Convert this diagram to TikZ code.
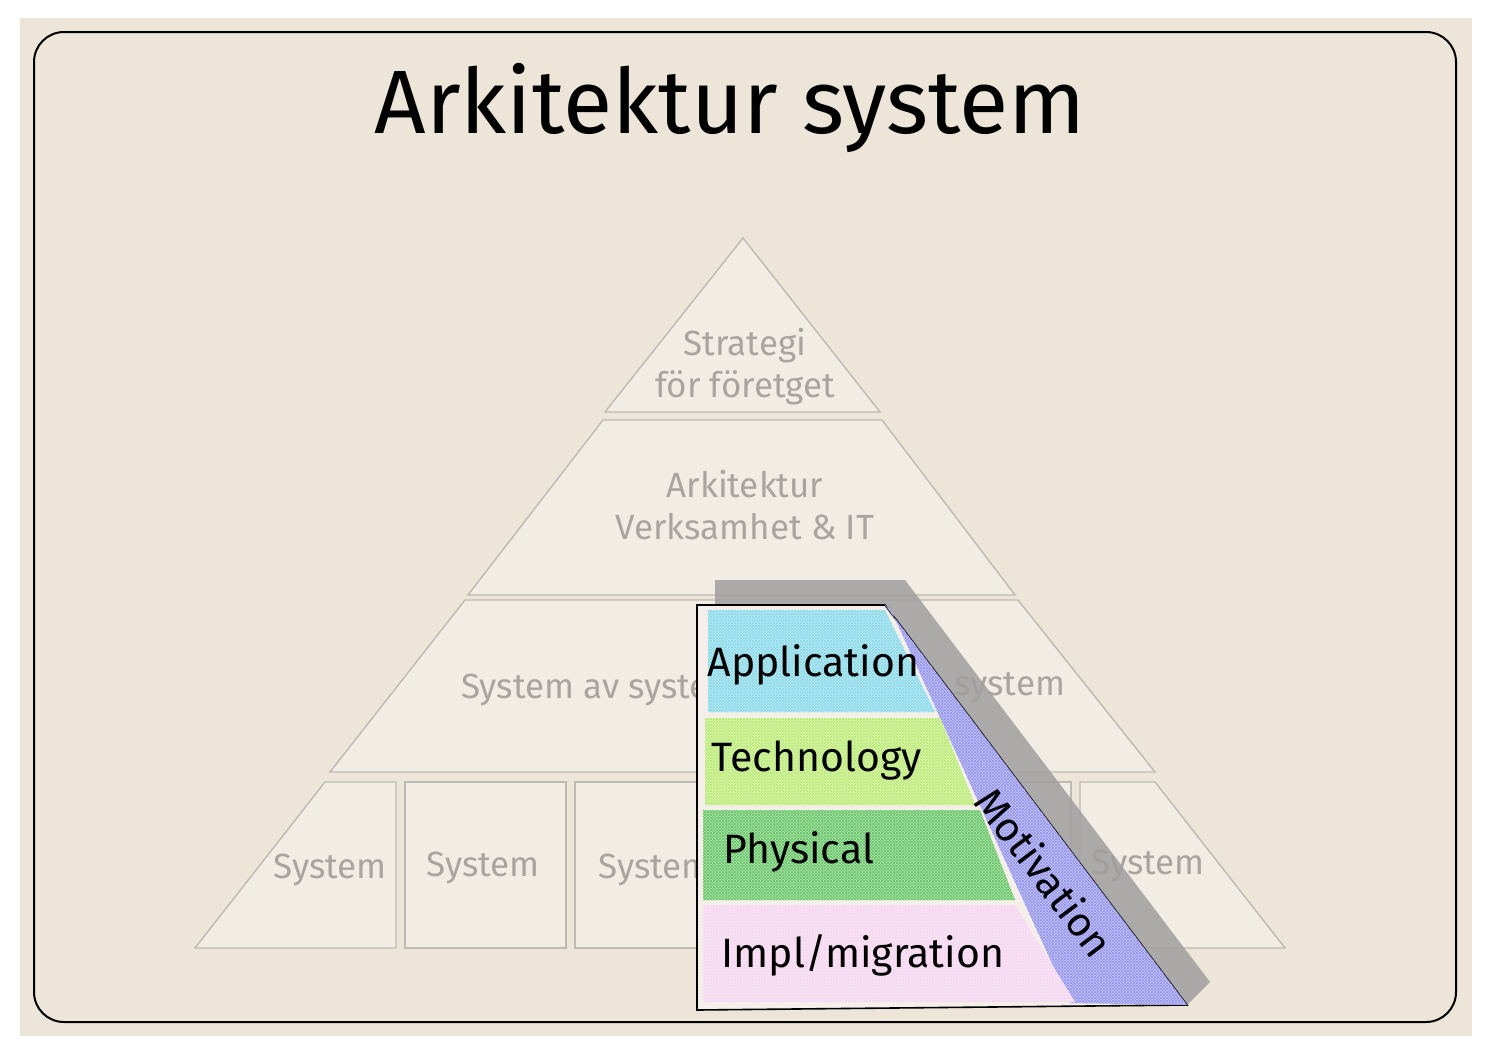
\documentclass[tikz,border=0pt]{standalone}
\usepackage{fontspec}
\setmainfont{Fira Sans}
\usetikzlibrary{patterns}
\definecolor{paper}{HTML}{ECE5D8}
\definecolor{pyrline}{HTML}{BDBAB4}
\definecolor{pyrtext}{HTML}{A8A49E}
\definecolor{appcol}{HTML}{7FD6E8}
\definecolor{techcol}{HTML}{B6EA6A}
\definecolor{physcol}{HTML}{5CC25C}
\definecolor{implcol}{HTML}{F6D2F0}
\definecolor{motcol}{HTML}{8C8CF0}
\tikzset{
  level/.style={draw=pyrline, line width=1.4pt, fill=paper!70!white},
  pyrlabel/.style={text=pyrtext, font=\fontsize{35}{42}\selectfont, align=center},
  band/.style={fill=#1!45!white, pattern color=#1},
  bandlabel/.style={font=\fontsize{41}{44}\selectfont},
}
\begin{document}
\begin{tikzpicture}[x=1pt,y=-1pt]
\useasboundingbox (0,0) rectangle (1490,1052);
\fill[white] (0,0) rectangle (1490,1052);
\fill[paper] (20,18) rectangle (1472,1036);
\draw[line width=2pt, rounded corners=30pt] (34,32) rectangle (1456,1022);
\node[font=\fontsize{90}{96}\selectfont] (title) at (730,108) {Arkitektur system};
% pyramid
\draw[level] (743,238) -- (880,412) -- (605,412) -- cycle;
\draw[level] (603,420) -- (882,420) -- (1015,595) -- (468,595) -- cycle;
\draw[level] (465,600) -- (1018,600) -- (1155,772) -- (330,772) -- cycle;
\draw[level] (325,782) -- (396,782) -- (396,948) -- (195,948) -- cycle;
\draw[level] (405,782) rectangle (566,948);
\draw[level] (575,782) rectangle (736,948);
\draw[level] (910,782) rectangle (1071,948);
\draw[level] (1080,782) -- (1155,782) -- (1285,948) -- (1080,948) -- cycle;
\node[pyrlabel] (strat) at (745,367) {Strategi\\för företget};
\node[pyrlabel] (arkit) at (745,505) {Arkitektur\\Verksamhet \& IT};
\node[pyrlabel] (sysav) at (600,690) {System av system};
\node[pyrlabel] (sysr) at (1010,688) {system};
\node[pyrlabel] (sys1) at (330,870) {System};
\node[pyrlabel] (sys2) at (483,868) {System};
\node[pyrlabel] (sys3) at (655,870) {System};
\node[pyrlabel] (sys5) at (1148,866) {System};
% overlay
\fill[gray!75, opacity=.85] (715,580) -- (905,580) -- (1210,982) -- (1187,1005) -- (885,605) -- (715,605) -- cycle;
\draw[line width=1.6pt, fill=paper!60!white] (697,605) -- (885,605) -- (1187,1005) -- (697,1010) -- cycle;
\fill[band=motcol] (885,605) -- (1187,1005) -- (1070,1003) -- (892,612) -- cycle;
\fill[pattern=crosshatch, pattern color=motcol] (885,605) -- (1187,1005) -- (1070,1003) -- (892,612) -- cycle;
\foreach \c/\p in {appcol/{(708,610) -- (885,610) -- (935,712) -- (708,712)},
                   techcol/{(705,718) -- (940,718) -- (975,805) -- (705,805)},
                   physcol/{(703,810) -- (980,810) -- (1015,900) -- (703,900)},
                   implcol/{(703,905) -- (1015,905) -- (1075,1002) -- (703,1002)}} {
  \fill[band=\c] \p -- cycle;
  \fill[pattern=crosshatch, pattern color=\c] \p -- cycle;
}
\node[bandlabel, anchor=west] (app) at (704,665) {Application};
\node[bandlabel, anchor=west] (tech) at (708,760) {Technology};
\node[bandlabel, anchor=west] (phys) at (720,852) {Physical};
\node[bandlabel, anchor=west] (impl) at (718,955) {Impl/migration};
\node[bandlabel, rotate=-53] (motiv) at (1045,872) {Motivation};
\end{tikzpicture}
\end{document}
